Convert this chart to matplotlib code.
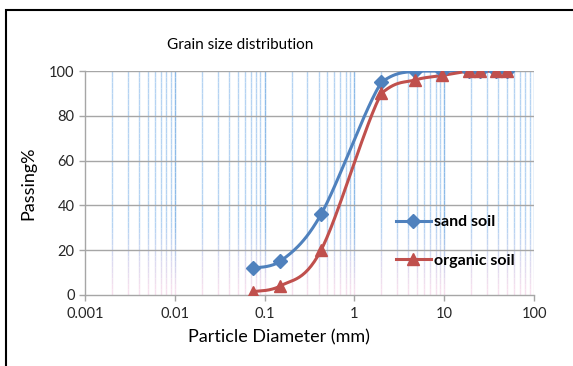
import matplotlib
matplotlib.use("Agg")
import matplotlib.pyplot as plt
import numpy as np
from matplotlib.collections import LineCollection
from matplotlib.lines import Line2D

plt.rcParams['font.family'] = ['Lato', 'DejaVu Sans']

# sieve sizes (mm) and percent passing
sand_d = [0.075, 0.15, 0.425, 2, 4.75, 9.5, 19, 25, 37.5, 50]
sand_pass = [12, 15, 36, 95, 100, 100, 100, 100, 100, 100]
organic_d = [0.075, 0.15, 0.425, 2, 4.75, 9.5, 19, 25, 37.5, 50]
organic_pass = [1.5, 4, 20, 90, 96, 98, 100, 100, 100, 100]

x_ticks = [0.001, 0.01, 0.1, 1, 10, 100]
x_tick_labels = ['0.001', '0.01', '0.1', '1', '10', '100']
y_ticks = [0, 20, 40, 60, 80, 100]


def smooth(xs, ys, n=30):
    # Excel style smoothed line: bezier through points, in log-x space
    p = np.column_stack([np.log10(xs), ys]).astype(float)
    out = []
    for i in range(len(p) - 1):
        p0 = p[i - 1] if i > 0 else p[i]
        p1, p2 = p[i], p[i + 1]
        p3 = p[i + 2] if i + 2 < len(p) else p[i + 1]
        c1 = p1 + (p2 - p0) / 6
        c2 = p2 - (p3 - p1) / 6
        lo, hi = min(p1[1], p2[1]), max(p1[1], p2[1])
        c1[1] = np.clip(c1[1], lo, hi)
        c2[1] = np.clip(c2[1], lo, hi)
        t = np.linspace(0, 1, n)[:, None]
        seg = ((1 - t) ** 3 * p1 + 3 * (1 - t) ** 2 * t * c1
               + 3 * (1 - t) * t ** 2 * c2 + t ** 3 * p2)
        out.append(seg if i == 0 else seg[1:])
    out = np.vstack(out)
    return 10 ** out[:, 0], out[:, 1]


fig = plt.figure(figsize=(5.73, 3.66), dpi=100)
ax = fig.add_axes([0.1483, 0.194, 0.7837, 0.612])
ax.set_xscale('log')
ax.set_xlim(0.001, 100)
ax.set_ylim(0, 100)

# vertical gridlines fading from blue to pink toward the bottom
blue = np.array(matplotlib.colors.to_rgb('#b5d3f2'))
blue_major = np.array(matplotlib.colors.to_rgb('#8dbbe8'))
pink = np.array(matplotlib.colors.to_rgb('#f6e0ee'))
segs, cols = [], []
ys = np.linspace(0, 100, 41)
grid_x = [m * 10.0 ** dec for dec in range(-3, 2) for m in range(1, 10)][1:] + [100]
for xv in grid_x:
    top = blue_major if np.isclose(np.log10(xv) % 1, 0) else blue
    for a, b in zip(ys[:-1], ys[1:]):
        f = min(1.0, max(0.0, (a - 2) / 28))
        segs.append([(xv, a), (xv, b)])
        cols.append(pink * (1 - f) + top * f)
ax.add_collection(LineCollection(segs, colors=cols, linewidths=1.0, zorder=0.5))

for yv in y_ticks[1:]:
    ax.axhline(yv, color='#a6a6a6', lw=1.0, zorder=0.6)

sx, sy = smooth(sand_d, sand_pass)
ox, oy = smooth(organic_d, organic_pass)
ax.plot(sx, sy, color='#4f81bd', lw=2.2, zorder=3)
ax.plot(ox, oy, color='#c0504d', lw=2.2, zorder=3)
ax.plot(sand_d, sand_pass, ls='none', marker='D', ms=7, color='#4f81bd', zorder=4)
ax.plot(organic_d, organic_pass, ls='none', marker='^', ms=9, color='#c0504d', zorder=5)

for s in ['top', 'right']:
    ax.spines[s].set_visible(False)
for s in ['left', 'bottom']:
    ax.spines[s].set_color('#a6a6a6')
    ax.spines[s].set_linewidth(1.0)
ax.set_xticks(x_ticks)
ax.set_xticklabels(x_tick_labels)
ax.xaxis.set_minor_locator(matplotlib.ticker.NullLocator())
ax.set_yticks(y_ticks)
ax.tick_params(axis='both', colors='#a6a6a6', labelcolor='#262626', labelsize=10.5, length=4, width=1)
ax.tick_params(axis='x', pad=5)

ax.set_xlabel('Particle Diameter (mm)', fontsize=13, color='#000000')
ax.xaxis.set_label_coords(0.432, -0.155)
ax.set_ylabel('Passing%', fontsize=13, color='#000000', labelpad=9)
fig.text(0.42, 0.876, 'Grain size distribution', fontsize=11, ha='center', va='center')

handles = [Line2D([], [], color='#4f81bd', lw=2.2, marker='D', ms=7),
           Line2D([], [], color='#c0504d', lw=2.2, marker='^', ms=9)]
leg = ax.legend(handles, ['sand soil', 'organic soil'], loc='upper left',
                bbox_to_anchor=(0.66, 0.42), frameon=False, handlelength=2.2,
                handletextpad=0.2, labelspacing=1.5,
                prop={'weight': 'bold', 'size': 11.5})

# outer frame of the chart area (right and bottom edges cut off)
fig.patches.append(plt.Rectangle((6 / 573, -0.1), 1.2, 1 - 10 / 366 + 0.1,
                                 transform=fig.transFigure, fill=False,
                                 edgecolor='black', lw=1.5))

fig.savefig('out.png', dpi=100)
